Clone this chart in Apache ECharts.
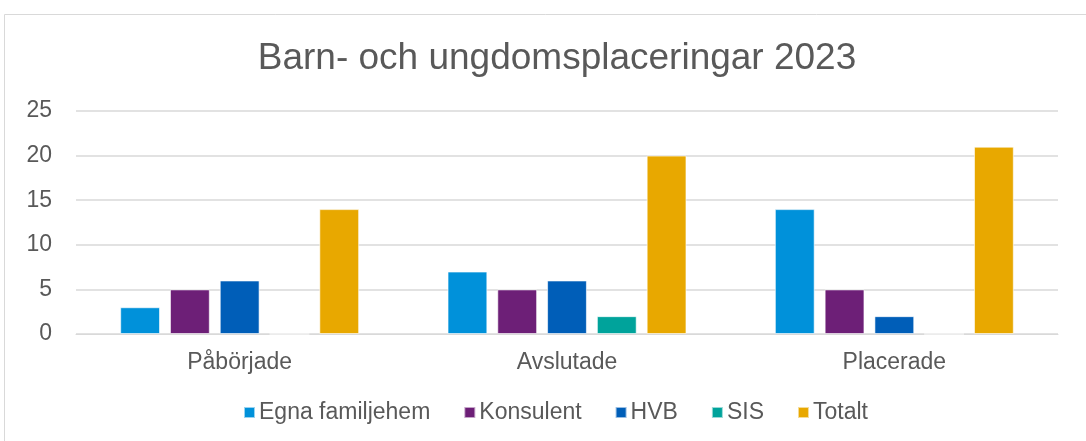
<!DOCTYPE html>
<html>
<head>
<meta charset="utf-8">
<script src="https://cdn.jsdelivr.net/npm/echarts@6/dist/echarts.min.js"></script>
<style>
  html, body { margin: 0; padding: 0; background: #fff; }
  #main { width: 1086px; height: 441px; }
</style>
</head>
<body>
<div id="main"></div>
<script>
// kategorier och serier
var categories = ['Påbörjade', 'Avslutade', 'Placerade'];
var seriesNames = ['Egna familjehem', 'Konsulent', 'HVB', 'SIS', 'Totalt'];
var egnaFamiljehem = [3, 7, 14];
var konsulent = [5, 5, 5];
var hvb = [6, 6, 2];
var sis = [0, 2, 0];
var totalt = [14, 20, 21];
var yTicks = [0, 5, 10, 15, 20, 25];

var colors = ['#0091DA', '#6D1F77', '#005EB8', '#00A39B', '#E8A800'];
var values = [egnaFamiljehem, konsulent, hvb, sis, totalt];

var chart = echarts.init(document.getElementById('main'));

var series = seriesNames.map(function (name, i) {
  return {
    name: name,
    type: 'bar',
    data: values[i],
    barGap: '25%',
    barCategoryGap: '27%',
    itemStyle: { color: colors[i], borderColor: 'rgba(255,255,255,0.6)', borderWidth: 1 }
  };
});

var option = {
  animation: false,
  textStyle: { fontFamily: 'Liberation Sans, Arial, sans-serif' },
  graphic: [{
    type: 'rect',
    shape: { x: 4.5, y: 14.5, width: 1100, height: 440 },
    style: { fill: 'none', stroke: '#d9d9d9', lineWidth: 1 },
    silent: true
  }],
  title: {
    text: 'Barn- och ungdomsplaceringar 2023',
    left: 552,
    textAlign: 'center',
    top: 35,
    textStyle: { fontSize: 37, fontWeight: 'normal', color: '#595959', fontFamily: 'Liberation Sans, Arial, sans-serif' }
  },
  legend: {
    data: seriesNames,
    bottom: 12,
    left: 238,
    itemWidth: 11,
    itemHeight: 11,
    itemGap: 33,
    icon: 'rect',
    textStyle: { fontSize: 23, color: '#595959', padding: [0, 0, 0, -1] }
  },
  grid: { left: 76, right: 28, top: 111, bottom: 107, containLabel: false },
  xAxis: {
    type: 'category',
    data: categories,
    axisLine: { lineStyle: { color: '#d9d9d9' } },
    axisTick: { show: false },
    axisLabel: { fontSize: 23, color: '#595959', margin: 17 }
  },
  yAxis: {
    type: 'value',
    min: yTicks[0],
    max: yTicks[yTicks.length - 1],
    interval: 5,
    axisLine: { show: false },
    axisTick: { show: false },
    splitLine: { lineStyle: { color: '#d9d9d9', width: 1.5 } },
    axisLabel: { fontSize: 23, color: '#595959', margin: 24 }
  },
  series: series
};

chart.setOption(option);
</script>
</body>
</html>
